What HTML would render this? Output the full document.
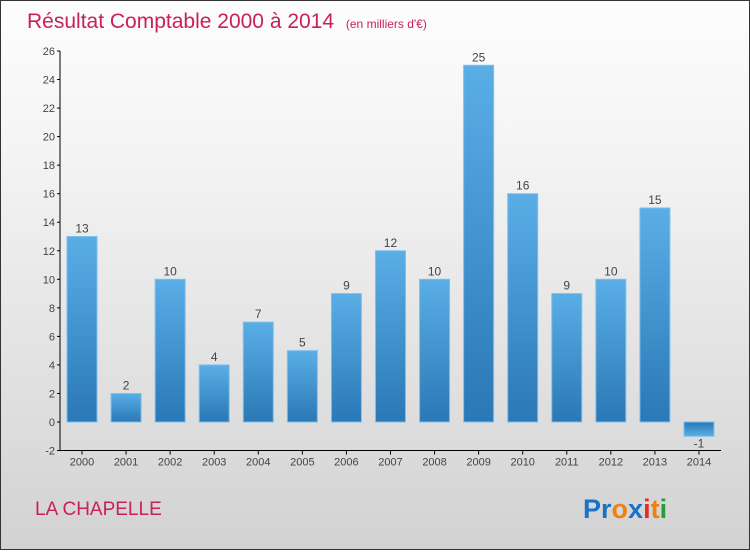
<!DOCTYPE html>
<html><head><meta charset="utf-8"><style>
body{margin:0}
#wrap{width:748px;height:548px;border:1px solid #333;background:linear-gradient(#fdfdfd,#f3f3f3 30%,#d2d2d2);position:relative;font-family:"Liberation Sans",sans-serif}
</style></head><body>
<div id="wrap">
<svg id="c" width="748" height="548">
<defs><linearGradient id="g" x1="0" y1="0" x2="0" y2="1"><stop offset="0" stop-color="#5aaee6"/><stop offset="1" stop-color="#2a78b6"/></linearGradient>
<linearGradient id="gn" x1="0" y1="0" x2="0" y2="1"><stop offset="0" stop-color="#2a78b6"/><stop offset="1" stop-color="#5aaee6"/></linearGradient></defs>
<text x="26" y="27" font-size="21" fill="#c8205a">Résultat Comptable 2000 à 2014 <tspan font-size="12" dx="6">(en milliers d'€)</tspan></text>
<text x="34" y="514" font-size="19" fill="#c8205a">LA CHAPELLE</text>
<text x="582" y="517" font-size="27" font-weight="bold"><tspan fill="#1a72c8">Pr</tspan><tspan fill="#f08010">o</tspan><tspan fill="#1a72c8">x</tspan><tspan fill="#e03020">i</tspan><tspan fill="#f08010">t</tspan><tspan fill="#2a9a3a">i</tspan></text>
<g id="plot"></g>
</svg></div>
<script>
const categories=["2000","2001","2002","2003","2004","2005","2006","2007","2008","2009","2010","2011","2012","2013","2014"];
const values=[13,2,10,4,7,5,9,12,10,25,16,9,10,15,-1];
const yTicks=[-2,0,2,4,6,8,10,12,14,16,18,20,22,24,26];
const NS="http://www.w3.org/2000/svg";
const g=document.getElementById('plot');
const y=v=>421-(v)*(371/26);
const x=i=>81+i*44.07;
function mk(t,a){const e=document.createElementNS(NS,t);for(const k in a)e.setAttribute(k,a[k]);g.appendChild(e);return e;}
let ax=mk('line',{x1:59,x2:59,y1:y(26),y2:y(-2),stroke:'#000'});


let bx=mk('line',{x1:59,x2:720,y1:y(-2),y2:y(-2),stroke:'#000'});


yTicks.forEach(v=>{
 mk('line',{x1:56,x2:59,y1:y(v),y2:y(v),stroke:'#000'});
 const t=mk('text',{x:54,y:y(v)+4,'text-anchor':'end','font-size':11,fill:'#444'});t.textContent=v;
 
 
});
categories.forEach((c,i)=>{
 const v=values[i];
 mk('line',{x1:x(i),x2:x(i),y1:y(-2),y2:y(-2)+4,stroke:'#000'});
 const t=mk('text',{x:x(i),y:y(-2)+15,'text-anchor':'middle','font-size':11,fill:'#444'});t.textContent=c;
 
 
 const top=Math.min(y(v),y(0)),h=Math.abs(y(v)-y(0));
 const r=mk('rect',{x:x(i)-15,y:top,width:30,height:h,fill:v<0?'url(#gn)':'url(#g)',stroke:'#7cc0ee','stroke-width':1});
 
 
 const l=mk('text',{x:x(i),y:v<0?y(v)+11:y(v)-4,'text-anchor':'middle','font-size':12,fill:'#444'});l.textContent=v;
 
 
});
</script>
</body></html>
